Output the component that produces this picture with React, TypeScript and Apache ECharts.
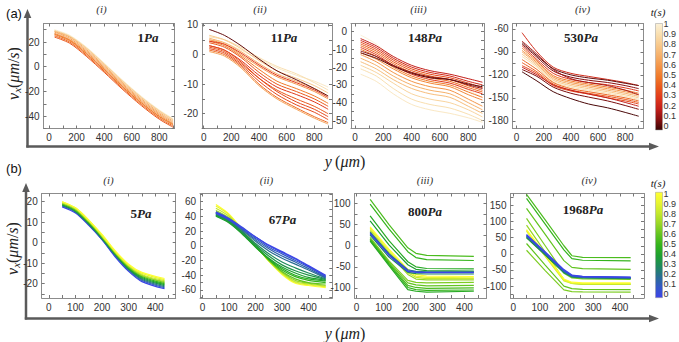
import React, { useEffect, useRef } from "react";
import * as echarts from "echarts";

// ---------- data ----------
// Row (a): x in µm
const xA = [40, 150, 270, 400, 530, 670, 800, 900];

const tA1 = [1.0, 0.9, 0.8, 0.7, 0.65, 0.6, 0.55, 0.5, 0.45, 0.4];
const vA1 = [
  [30, 25.5, 16, 3, -10.5, -24, -35, -42],
  [29.5, 25, 15.5, 2.5, -11, -24.5, -35.5, -42.5],
  [29, 24.5, 15, 2, -11.5, -25, -36, -43],
  [28.5, 24, 14, 1, -12.5, -26, -37, -44],
  [28, 23, 13, 0, -13.5, -27, -38, -45],
  [27, 22, 12, -1, -14.5, -28, -39, -46],
  [26.5, 21.5, 11, -2, -15.5, -29, -40, -46.5],
  [26, 21, 10.5, -2.5, -16, -29.5, -40.5, -47],
  [25, 20, 9.5, -3.5, -17, -30.5, -41.5, -48],
  [24, 19, 8.5, -4.5, -18, -31.5, -42.5, -49],
];

const tA2 = [0.95, 0.9, 0.8, 0.7, 0.6, 0.5, 0.4, 0.3, 0.4, 0.35, 0.35, 0.45, 0.65, 0.3, 0.05];
const vA2 = [
  [5, 4, 1.5, -1.5, -4.5, -7, -9, -11],
  [6, 5, 2.5, -1, -4, -6.5, -9.5, -12],
  [6.5, 5, 2, -2, -5.5, -8, -10.5, -13],
  [5.5, 4, 1, -3, -6.5, -9, -11.5, -14],
  [5, 3.5, 0, -4, -7.5, -10, -12.5, -15],
  [4.5, 3, -0.5, -5, -9, -11.5, -14, -16.5],
  [4, 2.5, -1, -6, -10, -12.5, -15, -17.5],
  [3, 1.5, -2, -7, -11, -13.5, -16, -18.5],
  [2.5, 1, -3, -8, -12, -15, -17.5, -20],
  [3, 1.5, -2.5, -8, -12.5, -16, -18.5, -21],
  [2, 0.5, -3.5, -9, -13.5, -17, -19.5, -22],
  [1.5, 0, -4, -10, -14.5, -18, -21, -23],
  [1, -0.5, -4.5, -10.5, -15, -18.5, -21.5, -23.5],
  [4.5, 3.5, 0.5, -3.5, -7, -9.5, -12, -14.5],
  [8.5, 6.5, 3, -1.5, -5.5, -8.5, -11.5, -14],
];

const tA3 = [1.0, 0.95, 0.9, 0.85, 0.75, 0.7, 0.6, 0.55, 0.5, 0.45, 0.4, 0.35, 0.3, 0.25, 0.2, 0.1, 0.05];
const vA3 = [
  [-2, -7, -15, -21, -25, -28, -33, -37],
  [-24, -28, -35, -41, -44, -46, -48.5, -51],
  [-21, -25, -32, -38, -41, -43, -46.5, -50],
  [-19, -23, -29, -35, -38, -40, -44, -48],
  [-17, -21, -27, -32, -35, -37, -42, -46],
  [-15, -19, -25, -30, -33, -35, -40, -44],
  [-13, -17, -23, -28, -31, -33, -38, -42],
  [-12, -15.5, -21, -26, -29, -31, -35.5, -38.5],
  [-10, -14, -20, -25, -28, -30, -34, -37],
  [-8, -12, -18, -23, -26, -28, -31.5, -34],
  [-7, -11, -17, -22, -25, -27, -30.5, -33],
  [-6, -10, -16, -21, -24, -26, -29, -31.5],
  [-9, -13, -19, -24, -27, -29, -32.5, -35],
  [-5, -9, -15, -20, -23, -25, -28, -30],
  [-4, -8, -14, -19, -22, -24, -26.5, -28.5],
  [-11, -14, -19, -23, -25.5, -27, -30, -32],
  [-12, -15, -19.5, -23.5, -26, -27, -29.5, -31],
];

const tA4 = [0.9, 0.8, 0.7, 0.6, 0.5, 0.45, 0.4, 0.35, 0.3, 0.25, 0.2, 0.15, 0.1, 0.08, 0.05, 0.02];
const vA4 = [
  [-96, -110, -129, -136, -140, -144, -148, -152],
  [-93, -108, -127, -134, -138, -142, -146, -150],
  [-90, -106, -125, -132, -136, -140, -144, -148],
  [-88, -104, -123, -130, -134, -138, -142, -146],
  [-85, -102, -121, -128, -132, -136, -140, -144],
  [-100, -113, -130, -138, -142, -146, -150, -154],
  [-104, -116, -132, -140, -144, -148, -152, -156],
  [-108, -118, -134, -141, -145, -150, -154, -158],
  [-82, -100, -118, -126, -130, -133, -137, -141],
  [-65, -90, -110, -118, -122, -126, -130, -134],
  [-110, -120, -133, -140, -145, -150, -156, -161],
  [-76, -93, -113, -125, -130, -134, -140, -146],
  [-80, -97, -115, -123, -127, -130, -134, -138],
  [-113, -122, -136, -144, -149, -154, -160, -165],
  [-78, -95, -112, -120, -124, -127, -131, -134],
  [-116, -128, -142, -151, -158, -163, -169, -174],
];

// Row (b)
const xB1 = [50, 100, 150, 200, 250, 300, 350, 435];
const tB1 = [0, 0.1, 0.2, 0.3, 0.4, 0.5, 0.6, 0.7, 0.8, 0.9, 1.0];
const vB1 = [
  [17.5, 14.5, 8.5, 1.5, -7, -14, -19, -22.5],
  [18, 15, 9, 1.5, -6.5, -13.5, -18.5, -22],
  [18, 15, 9, 2, -6, -13, -18, -21.5],
  [18.5, 15.5, 9.5, 2, -6, -13, -17.5, -21],
  [18.5, 15.5, 9.5, 2.5, -5.5, -12.5, -17, -20.5],
  [19, 16, 10, 2.5, -5.5, -12, -16.5, -20],
  [19, 16, 10, 3, -5, -12, -16, -19.5],
  [19.5, 16.5, 10.5, 3, -5, -11.5, -16, -19],
  [19.5, 16.5, 10.5, 3.5, -4.5, -11, -15.5, -18.5],
  [20, 17, 11, 3.5, -4.5, -11, -15, -18],
  [20, 17, 11, 4, -4, -10.5, -14.5, -17.5],
];

const xB2 = [50, 100, 150, 200, 250, 300, 350, 400, 465];
const tB2 = [1.0, 0.9, 0.8, 0.7, 0.6, 0.5, 0.45, 0.4, 0.35, 0.3, 0.2, 0.15, 0.1, 0.05, 0];
const vB2 = [
  [56, 43, 22, 1, -21, -39, -51, -54, -57],
  [54, 42, 21, 1, -21, -38, -50, -53, -56],
  [51, 40, 20, 0, -20, -37, -49, -52, -55],
  [48, 38, 19, 0, -20, -36, -47, -51, -54],
  [46, 36, 18, -1, -19, -35, -45, -50, -52],
  [42, 33, 17, -1, -19, -33, -42, -47, -50],
  [41, 32, 16, -2, -18, -31, -40, -45, -48],
  [40, 31, 16, -1, -17, -29, -37, -43, -47],
  [42, 33, 18, 1, -14, -26, -34, -40, -46],
  [43, 34, 19, 3, -11, -22, -30, -37, -45],
  [44, 35, 21, 6, -7, -17, -25, -33, -44],
  [45, 36, 22, 8, -4, -14, -22, -31, -43],
  [44, 35, 23, 10, -2, -11, -20, -29, -42],
  [46, 37, 25, 12, 0, -9, -18, -28, -41],
  [45, 36, 24, 12, 1, -8, -17, -27, -40],
];

const xB3 = [50, 120, 190, 220, 260, 435];
const tB3 = [0.55, 0.5, 0.45, 0.4, 0.65, 0.6, 0.55, 0.5, 0.45, 0.7, 0.8, 0.9, 1.0, 0.3, 0.2, 0.1, 0];
const vB3 = [
  [110, 50, -5, -18, -23, -25],
  [99, 40, -14, -28, -33, -35],
  [71, 12, -38, -50, -54, -55],
  [59, 2, -45, -56, -59, -60],
  [20, -36, -82, -87, -88, -87],
  [17, -39, -88, -93, -95, -94],
  [15, -42, -94, -99, -101, -100],
  [13, -44, -99, -104, -106, -105],
  [11, -47, -104, -108, -110, -108],
  [34, -19, -68, -79, -81, -81],
  [38, -15, -64, -75, -78, -78],
  [42, -11, -60, -72, -75, -76],
  [45, -8, -56, -68, -72, -73],
  [25, -27, -63, -66, -67, -67],
  [32, -19, -57, -61, -62, -62],
  [30, -21, -59, -62, -63, -63],
  [28, -23, -61, -63, -64, -64],
];

const xB4 = [50, 120, 190, 220, 260, 440];
const tB4 = [0.55, 0.5, 0.6, 0.65, 0.7, 0.6, 0.65, 0.85, 0.9, 1.0, 0.4, 0.3, 0.2, 0.1, 0.05, 0];
const vB4 = [
  [184, 105, 25, -6, -11, -12],
  [172, 92, 12, -15, -20, -22],
  [141, 60, -21, -42, -46, -48],
  [110, 25, -60, -75, -78, -79],
  [89, 5, -80, -92, -95, -95],
  [32, -35, -100, -108, -110, -111],
  [11, -52, -112, -117, -118, -119],
  [70, -8, -84, -92, -94, -94],
  [73, -5, -81, -90, -92, -92],
  [75, -2, -78, -88, -90, -90],
  [50, -4, -59, -72, -75, -77],
  [52, -2, -57, -71, -74, -76],
  [54, 0, -55, -70, -73, -75],
  [56, 2, -53, -68, -72, -74],
  [58, 4, -51, -67, -71, -73],
  [60, 6, -49, -66, -70, -72],
];

// tick labels
const xLabA = [0, 200, 400, 600, 800];
const xLabB = [0, 100, 200, 300, 400];
const yLabA1 = [-40, -20, 0, 20];
const yLabA2 = [-20, -10, 0, 10];
const yLabA3 = [-50, -40, -30, -20, -10, 0];
const yLabA4 = [-180, -150, -120, -90, -60];
const yLabB1 = [-20, -10, 0, 10, 20];
const yLabB2 = [-60, -40, -20, 0, 20, 40, 60];
const yLabB3 = [-100, -50, 0, 50, 100];
const yLabB4 = [-100, -50, 0, 50, 100, 150];
const pressures = ["1", "11", "148", "530", "5", "67", "800", "1968"];
const romans = ["i", "ii", "iii", "iv", "i", "ii", "iii", "iv"];

// colormaps (t = 0 .. 1)
const hotStops = ["#3a0505", "#8a1010", "#c41f1a", "#e0381c", "#ea581c", "#f07a2a", "#f49548", "#f6b06a", "#f8c98c", "#f9dfb0", "#fbf1d8"];
const bgyStops = ["#3c44e8", "#3458c8", "#2a6e92", "#1f8a5c", "#1ea030", "#34b41c", "#62c420", "#98d626", "#c4e82c", "#e8f531", "#ffff33"];

function hexRgb(h: string) {
  const n = parseInt(h.slice(1), 16);
  return [(n >> 16) & 255, (n >> 8) & 255, n & 255];
}
function cmap(stops: string[], t: number) {
  const f = Math.max(0, Math.min(1, t)) * (stops.length - 1);
  const i = Math.min(stops.length - 2, Math.floor(f));
  const r = f - i;
  const a = hexRgb(stops[i]);
  const b = hexRgb(stops[i + 1]);
  const c = a.map((v, k) => Math.round(v + (b[k] - v) * r));
  return `rgb(${c[0]},${c[1]},${c[2]})`;
}

type Panel = {
  box: [number, number, number, number];
  xr: [number, number]; xl: number[]; xt: number;
  yr: [number, number]; yl: number[]; yt: number;
  xs: number[]; T: number[]; V: number[][];
  stops: string[]; smooth: number | boolean; lw: number;
  title: [number, number]; press: [number, number];
};

const panels: Panel[] = [
  { box: [43.5, 23.5, 131, 105], xr: [-40, 910], xl: xLabA, xt: 100, yr: [-50, 35], yl: yLabA1, yt: 10, xs: xA, T: tA1, V: vA1, stops: hotStops, smooth: 0.3, lw: 1, title: [101.5, 8.5], press: [148, 37.5] },
  { box: [202, 23.5, 130, 105], xr: [-12, 928], xl: xLabA, xt: 100, yr: [-25, 10.5], yl: yLabA2, yt: 5, xs: xA, T: tA2, V: vA2, stops: hotStops, smooth: 0.3, lw: 1, title: [260, 8.5], press: [284, 37.5] },
  { box: [351, 23.5, 133, 105], xr: [-28, 911], xl: xLabA, xt: 100, yr: [-54.5, 4.5], yl: yLabA3, yt: 5, xs: xA, T: tA3, V: vA3, stops: hotStops, smooth: 0.3, lw: 1, title: [418.5, 8.5], press: [425, 37.5] },
  { box: [512.5, 23.5, 131, 105], xr: [-30, 935], xl: xLabA, xt: 100, yr: [-190, -53], yl: yLabA4, yt: 15, xs: xA, T: tA4, V: vA4, stops: hotStops, smooth: 0.3, lw: 1, title: [582.5, 8.5], press: [581, 37.5] },
  { box: [41.7, 193.5, 134, 104.5], xr: [-27, 477], xl: xLabB, xt: 50, yr: [-27, 24], yl: yLabB1, yt: 5, xs: xB1, T: tB1, V: vB1, stops: bgyStops, smooth: 0.3, lw: 1.2, title: [108.5, 180], press: [141, 213] },
  { box: [200, 193.5, 132.3, 104.5], xr: [-10, 490], xl: xLabB, xt: 50, yr: [-71, 71], yl: yLabB2, yt: 10, xs: xB2, T: tB2, V: vB2, stops: bgyStops, smooth: 0.3, lw: 1.2, title: [266.5, 180], press: [282.5, 219] },
  { box: [354.5, 193.5, 132, 104.5], xr: [-8, 482], xl: xLabB, xt: 50, yr: [-124, 124], yl: yLabB3, yt: 25, xs: xB3, T: tB3, V: vB3, stops: bgyStops, smooth: false, lw: 1.2, title: [425, 180], press: [425, 211] },
  { box: [510.5, 193.5, 133.5, 104.5], xr: [-10, 490], xl: xLabB, xt: 50, yr: [-137, 187], yl: yLabB4, yt: 25, xs: xB4, T: tB4, V: vB4, stops: bgyStops, smooth: false, lw: 1.2, title: [589, 180], press: [583, 209] },
];

function tickVals(r: [number, number], step: number) {
  const out: number[] = [];
  for (let v = Math.ceil(r[0] / step) * step; v <= r[1] + 1e-9; v += step) out.push(Math.round(v * 1000) / 1000);
  return out;
}

const SERIF = "Liberation Serif";
const SANS = "Liberation Sans";

function buildOption() {
  const grid: any[] = [];
  const xAxis: any[] = [];
  const yAxis: any[] = [];
  const series: any[] = [];
  const axisLine = { show: true, onZero: false, lineStyle: { color: "#8c8c8c", width: 1 } };
  const tick = (vals: number[]) => ({ show: true, inside: true, length: 3, lineStyle: { color: "#777", width: 1 }, customValues: vals });
  const lab = { fontSize: 10, color: "#333", fontFamily: SANS };

  panels.forEach((p, gi) => {
    grid.push({ left: p.box[0], top: p.box[1], width: p.box[2], height: p.box[3], containLabel: false });
    const xt = tickVals(p.xr, p.xt);
    const yt = tickVals(p.yr, p.yt);
    xAxis.push({ type: "value", gridIndex: gi, position: "bottom", min: p.xr[0], max: p.xr[1], axisLine, axisTick: tick(xt), splitLine: { show: false }, axisLabel: { ...lab, margin: 4, customValues: p.xl } });
    xAxis.push({ type: "value", gridIndex: gi, position: "top", min: p.xr[0], max: p.xr[1], axisLine, axisTick: tick(xt), splitLine: { show: false }, axisLabel: { show: false } });
    yAxis.push({ type: "value", gridIndex: gi, position: "left", min: p.yr[0], max: p.yr[1], axisLine, axisTick: tick(yt), splitLine: { show: false }, axisLabel: { ...lab, margin: 4, customValues: p.yl } });
    yAxis.push({ type: "value", gridIndex: gi, position: "right", min: p.yr[0], max: p.yr[1], axisLine, axisTick: tick(yt), splitLine: { show: false }, axisLabel: { show: false } });
    p.V.forEach((vals, i) => {
      series.push({
        type: "line",
        xAxisIndex: gi * 2,
        yAxisIndex: gi * 2,
        data: p.xs.map((x, j) => [x, vals[j]]),
        smooth: p.smooth,
        symbol: "none",
        silent: true,
        lineStyle: { width: p.lw, color: cmap(p.stops, p.T[i]) },
      });
    });
  });

  // colour bars (axes for the labels)
  const cbars = [
    { top: 24, height: 102 },
    { top: 194.3, height: 100 },
  ];
  cbars.forEach((c, k) => {
    const gi = panels.length + k;
    grid.push({ left: 655.5, top: c.top, width: 7, height: c.height });
    xAxis.push({ type: "value", gridIndex: gi, show: false, min: 0, max: 1 });
    yAxis.push({
      type: "value", gridIndex: gi, position: "right", min: 0, max: 1, interval: 0.1,
      axisLine: { show: false }, axisTick: { show: false }, splitLine: { show: false },
      axisLabel: { fontSize: 9, color: "#333", fontFamily: SANS, margin: 3, formatter: (v: number) => String(Math.round(v * 10) / 10) },
    });
  });

  const gradient = (stops: string[]) =>
    new echarts.graphic.LinearGradient(0, 0, 0, 1, stops.slice().reverse().map((c, i) => ({ offset: i / (stops.length - 1), color: c })));

  const txt = (x: number, y: number, text: string, style: any, extra: any = {}) => ({
    type: "text", x, y, ...extra, silent: true,
    style: { text, align: "center", verticalAlign: "middle", textAlign: "center", textVerticalAlign: "middle", fill: "#222", ...style },
  });

  const gray = "#5a5a5a";
  const graphic: any[] = [];
  // big axes with arrows
  const arrows = [
    { vx: 27.5, vTop: 17, hy: 146.5, tipY: 9 },
    { vx: 26, vTop: 191, hy: 318.5, tipY: 183 },
  ];
  arrows.forEach((a) => {
    graphic.push({ type: "line", silent: true, shape: { x1: a.vx, y1: a.hy + 1, x2: a.vx, y2: a.vTop }, style: { stroke: gray, lineWidth: 2.5 } });
    graphic.push({ type: "polygon", silent: true, shape: { points: [[a.vx, a.tipY], [a.vx - 3.8, a.tipY + 9], [a.vx + 3.8, a.tipY + 9]] }, style: { fill: gray } });
    graphic.push({ type: "line", silent: true, shape: { x1: a.vx - 1.2, y1: a.hy, x2: 650, y2: a.hy }, style: { stroke: gray, lineWidth: 2.5 } });
    graphic.push({ type: "polygon", silent: true, shape: { points: [[659, a.hy], [649, a.hy - 3.8], [649, a.hy + 3.8]] }, style: { fill: gray } });
  });

  // (a), (b)
  graphic.push(txt(14, 13, "(a)", { fontSize: 13, fontFamily: SANS, fill: "#111" }));
  graphic.push(txt(14, 168, "(b)", { fontSize: 13, fontFamily: SANS, fill: "#111" }));

  // axis titles
  const vRich = {
    i: { fontFamily: SERIF, fontStyle: "italic", fontSize: 16, fill: "#222", lineHeight: 20 },
    n: { fontFamily: SERIF, fontSize: 16, fill: "#222", lineHeight: 20 },
    s: { fontFamily: SERIF, fontStyle: "italic", fontSize: 11, fill: "#222", lineHeight: 20, padding: [7, 0, 0, 0] },
  };
  const vText = "{i|v}{s|x}{n|(}{i|μm}{n|/}{i|s}{n|)}";
  graphic.push(txt(13, 73.5, vText, { rich: vRich }, { rotation: Math.PI / 2 }));
  graphic.push(txt(12, 248.5, vText, { rich: vRich }, { rotation: Math.PI / 2 }));
  const yText = "{i|y} {n|(}{i|μm}{n|)}";
  graphic.push(txt(345, 161.5, yText, { rich: vRich }));
  graphic.push(txt(345, 333.5, yText, { rich: vRich }));

  // panel titles and pressure labels
  const pRich = {
    b: { fontFamily: SERIF, fontWeight: "bold", fontSize: 13, fill: "#222" },
    bi: { fontFamily: SERIF, fontWeight: "bold", fontStyle: "italic", fontSize: 13, fill: "#222" },
  };
  panels.forEach((p, k) => {
    graphic.push(txt(p.title[0], p.title[1], `(${romans[k]})`, { fontFamily: SERIF, fontStyle: "italic", fontSize: 11, fill: "#333" }));
    graphic.push(txt(p.press[0], p.press[1], `{b|${pressures[k]}}{bi|Pa}`, { rich: pRich }));
  });

  // colour bars
  graphic.push({ type: "rect", silent: true, shape: { x: 655.5, y: 23.5, width: 7, height: 106.5 }, style: { fill: gradient(hotStops), stroke: "#999", lineWidth: 0.5 } });
  graphic.push({ type: "rect", silent: true, shape: { x: 655.5, y: 192.3, width: 7, height: 105.4 }, style: { fill: gradient(bgyStops), stroke: "#999", lineWidth: 0.5 } });
  graphic.push(txt(658, 12, "t(s)", { fontFamily: SERIF, fontStyle: "italic", fontSize: 11, fill: "#222" }));
  graphic.push(txt(658, 183, "t(s)", { fontFamily: SERIF, fontStyle: "italic", fontSize: 11, fill: "#222" }));

  return { animation: false, backgroundColor: "#ffffff", grid, xAxis, yAxis, series, graphic };
}

export default function App() {
  const ref = useRef<HTMLDivElement>(null);
  useEffect(() => {
    if (!ref.current) return;
    const chart = echarts.init(ref.current, undefined, { renderer: "svg" });
    chart.setOption(buildOption() as any);
    return () => chart.dispose();
  }, []);
  return <div ref={ref} style={{ position: "fixed", left: 0, top: 0, width: 679, height: 342 }} />;
}
